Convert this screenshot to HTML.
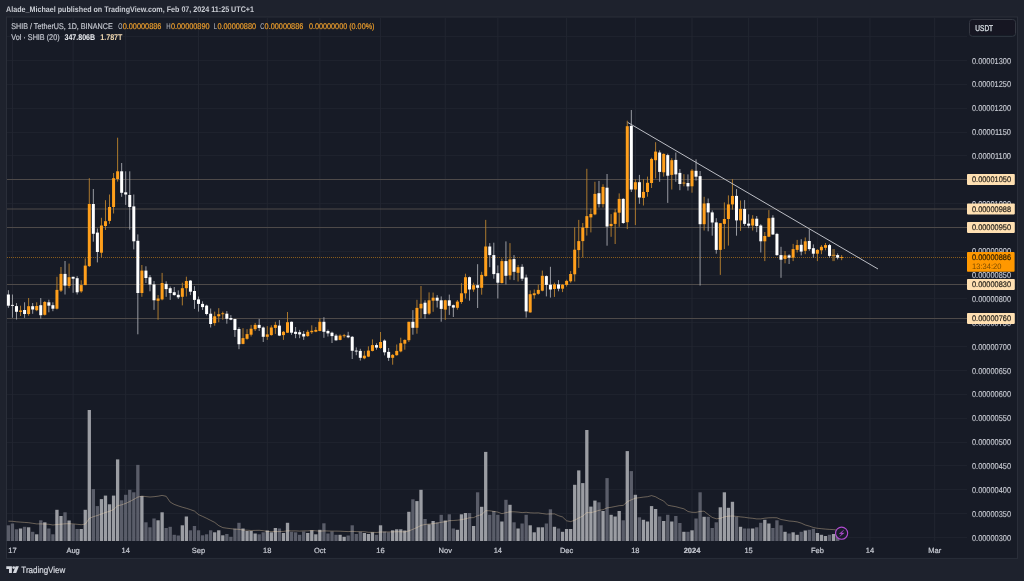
<!DOCTYPE html>
<html><head><meta charset="utf-8"><title>SHIB / TetherUS chart</title>
<style>html,body{margin:0;padding:0;background:#1e222d;width:1024px;height:581px;overflow:hidden}</style>
</head><body>
<svg width="1024" height="581" viewBox="0 0 1024 581" style="display:block;position:absolute;left:0;top:0" font-family="Liberation Sans, sans-serif" text-rendering="geometricPrecision">
<defs><filter id="cb" filterUnits="userSpaceOnUse" x="0" y="0" width="1024" height="581"><feGaussianBlur stdDeviation="0.3"/></filter><filter id="tb" filterUnits="userSpaceOnUse" x="0" y="0" width="1024" height="581"><feGaussianBlur stdDeviation="0.28"/></filter></defs>
<rect width="1024" height="581" fill="#1e222d"/>
<rect x="6.5" y="17" width="1011.0" height="541.4" fill="#171b26" stroke="#2a2e39" stroke-width="1"/>
<g stroke="#1e222d" stroke-width="1">
<line x1="7.0" y1="36.50" x2="967" y2="36.50"/>
<line x1="7.0" y1="60.50" x2="967" y2="60.50"/>
<line x1="7.0" y1="84.50" x2="967" y2="84.50"/>
<line x1="7.0" y1="108.50" x2="967" y2="108.50"/>
<line x1="7.0" y1="132.50" x2="967" y2="132.50"/>
<line x1="7.0" y1="155.50" x2="967" y2="155.50"/>
<line x1="7.0" y1="179.50" x2="967" y2="179.50"/>
<line x1="7.0" y1="203.50" x2="967" y2="203.50"/>
<line x1="7.0" y1="227.50" x2="967" y2="227.50"/>
<line x1="7.0" y1="251.50" x2="967" y2="251.50"/>
<line x1="7.0" y1="275.50" x2="967" y2="275.50"/>
<line x1="7.0" y1="298.50" x2="967" y2="298.50"/>
<line x1="7.0" y1="322.50" x2="967" y2="322.50"/>
<line x1="7.0" y1="346.50" x2="967" y2="346.50"/>
<line x1="7.0" y1="370.50" x2="967" y2="370.50"/>
<line x1="7.0" y1="394.50" x2="967" y2="394.50"/>
<line x1="7.0" y1="418.50" x2="967" y2="418.50"/>
<line x1="7.0" y1="442.50" x2="967" y2="442.50"/>
<line x1="7.0" y1="465.50" x2="967" y2="465.50"/>
<line x1="7.0" y1="489.50" x2="967" y2="489.50"/>
<line x1="7.0" y1="513.50" x2="967" y2="513.50"/>
<line x1="7.0" y1="537.50" x2="967" y2="537.50"/>
<line x1="12.45" y1="17.5" x2="12.45" y2="541" stroke="#222631"/>
<line x1="73.12" y1="17.5" x2="73.12" y2="541" stroke="#222631"/>
<line x1="125.70" y1="17.5" x2="125.70" y2="541" stroke="#222631"/>
<line x1="198.52" y1="17.5" x2="198.52" y2="541" stroke="#222631"/>
<line x1="267.28" y1="17.5" x2="267.28" y2="541" stroke="#222631"/>
<line x1="319.86" y1="17.5" x2="319.86" y2="541" stroke="#222631"/>
<line x1="380.54" y1="17.5" x2="380.54" y2="541" stroke="#222631"/>
<line x1="445.26" y1="17.5" x2="445.26" y2="541" stroke="#222631"/>
<line x1="497.84" y1="17.5" x2="497.84" y2="541" stroke="#222631"/>
<line x1="566.61" y1="17.5" x2="566.61" y2="541" stroke="#222631"/>
<line x1="635.38" y1="17.5" x2="635.38" y2="541" stroke="#222631"/>
<line x1="692.00" y1="17.5" x2="692.00" y2="541" stroke="#222631"/>
<line x1="748.63" y1="17.5" x2="748.63" y2="541" stroke="#222631"/>
<line x1="817.40" y1="17.5" x2="817.40" y2="541" stroke="#222631"/>
<line x1="869.99" y1="17.5" x2="869.99" y2="541" stroke="#222631"/>
<line x1="934.70" y1="17.5" x2="934.70" y2="541" stroke="#222631"/>
</g>
<g filter="url(#cb)">
<rect x="6.75" y="525.30" width="3.3" height="15.70" fill="#5a5d69"/>
<rect x="10.79" y="523.50" width="3.3" height="17.50" fill="#5a5d69"/>
<rect x="14.84" y="529.30" width="3.3" height="11.70" fill="#5a5d69"/>
<rect x="18.89" y="528.50" width="3.3" height="12.50" fill="#9b9da3"/>
<rect x="22.93" y="526.80" width="3.3" height="14.20" fill="#5a5d69"/>
<rect x="26.98" y="527.30" width="3.3" height="13.70" fill="#9b9da3"/>
<rect x="31.02" y="531.80" width="3.3" height="9.20" fill="#5a5d69"/>
<rect x="35.06" y="534.30" width="3.3" height="6.70" fill="#9b9da3"/>
<rect x="39.11" y="520.30" width="3.3" height="20.70" fill="#5a5d69"/>
<rect x="43.16" y="522.30" width="3.3" height="18.70" fill="#9b9da3"/>
<rect x="47.20" y="528.50" width="3.3" height="12.50" fill="#5a5d69"/>
<rect x="51.24" y="534.30" width="3.3" height="6.70" fill="#5a5d69"/>
<rect x="55.29" y="509.80" width="3.3" height="31.20" fill="#9b9da3"/>
<rect x="59.34" y="516.00" width="3.3" height="25.00" fill="#9b9da3"/>
<rect x="63.38" y="512.30" width="3.3" height="28.70" fill="#5a5d69"/>
<rect x="67.42" y="520.50" width="3.3" height="20.50" fill="#9b9da3"/>
<rect x="71.47" y="524.30" width="3.3" height="16.70" fill="#5a5d69"/>
<rect x="75.52" y="529.00" width="3.3" height="12.00" fill="#5a5d69"/>
<rect x="79.56" y="529.00" width="3.3" height="12.00" fill="#9b9da3"/>
<rect x="83.61" y="509.80" width="3.3" height="31.20" fill="#9b9da3"/>
<rect x="87.65" y="410.00" width="3.3" height="131.00" fill="#9b9da3"/>
<rect x="91.69" y="489.10" width="3.3" height="51.90" fill="#5a5d69"/>
<rect x="95.74" y="506.10" width="3.3" height="34.90" fill="#5a5d69"/>
<rect x="99.78" y="499.10" width="3.3" height="41.90" fill="#9b9da3"/>
<rect x="103.83" y="495.60" width="3.3" height="45.40" fill="#9b9da3"/>
<rect x="107.88" y="504.30" width="3.3" height="36.70" fill="#9b9da3"/>
<rect x="111.92" y="495.60" width="3.3" height="45.40" fill="#9b9da3"/>
<rect x="115.97" y="459.40" width="3.3" height="81.60" fill="#9b9da3"/>
<rect x="120.01" y="500.30" width="3.3" height="40.70" fill="#5a5d69"/>
<rect x="124.05" y="494.80" width="3.3" height="46.20" fill="#5a5d69"/>
<rect x="128.10" y="489.80" width="3.3" height="51.20" fill="#5a5d69"/>
<rect x="132.14" y="492.30" width="3.3" height="48.70" fill="#5a5d69"/>
<rect x="136.19" y="464.90" width="3.3" height="76.10" fill="#5a5d69"/>
<rect x="140.23" y="496.10" width="3.3" height="44.90" fill="#9b9da3"/>
<rect x="144.28" y="522.30" width="3.3" height="18.70" fill="#5a5d69"/>
<rect x="148.32" y="527.30" width="3.3" height="13.70" fill="#5a5d69"/>
<rect x="152.37" y="518.50" width="3.3" height="22.50" fill="#5a5d69"/>
<rect x="156.41" y="520.30" width="3.3" height="20.70" fill="#9b9da3"/>
<rect x="160.46" y="512.30" width="3.3" height="28.70" fill="#9b9da3"/>
<rect x="164.50" y="528.00" width="3.3" height="13.00" fill="#5a5d69"/>
<rect x="168.55" y="526.80" width="3.3" height="14.20" fill="#5a5d69"/>
<rect x="172.59" y="534.80" width="3.3" height="6.20" fill="#5a5d69"/>
<rect x="176.64" y="535.50" width="3.3" height="5.50" fill="#5a5d69"/>
<rect x="180.69" y="525.30" width="3.3" height="15.70" fill="#9b9da3"/>
<rect x="184.73" y="516.50" width="3.3" height="24.50" fill="#9b9da3"/>
<rect x="188.78" y="530.30" width="3.3" height="10.70" fill="#5a5d69"/>
<rect x="192.82" y="526.00" width="3.3" height="15.00" fill="#5a5d69"/>
<rect x="196.87" y="530.30" width="3.3" height="10.70" fill="#5a5d69"/>
<rect x="200.91" y="535.30" width="3.3" height="5.70" fill="#5a5d69"/>
<rect x="204.95" y="534.30" width="3.3" height="6.70" fill="#5a5d69"/>
<rect x="209.00" y="530.30" width="3.3" height="10.70" fill="#5a5d69"/>
<rect x="213.04" y="532.30" width="3.3" height="8.70" fill="#9b9da3"/>
<rect x="217.09" y="530.30" width="3.3" height="10.70" fill="#9b9da3"/>
<rect x="221.13" y="535.30" width="3.3" height="5.70" fill="#9b9da3"/>
<rect x="225.18" y="534.00" width="3.3" height="7.00" fill="#5a5d69"/>
<rect x="229.22" y="536.80" width="3.3" height="4.20" fill="#5a5d69"/>
<rect x="233.27" y="528.50" width="3.3" height="12.50" fill="#5a5d69"/>
<rect x="237.31" y="522.80" width="3.3" height="18.20" fill="#5a5d69"/>
<rect x="241.36" y="528.50" width="3.3" height="12.50" fill="#9b9da3"/>
<rect x="245.41" y="531.00" width="3.3" height="10.00" fill="#9b9da3"/>
<rect x="249.45" y="531.00" width="3.3" height="10.00" fill="#9b9da3"/>
<rect x="253.50" y="533.50" width="3.3" height="7.50" fill="#9b9da3"/>
<rect x="257.54" y="534.30" width="3.3" height="6.70" fill="#5a5d69"/>
<rect x="261.59" y="532.30" width="3.3" height="8.70" fill="#5a5d69"/>
<rect x="265.63" y="530.50" width="3.3" height="10.50" fill="#9b9da3"/>
<rect x="269.68" y="532.30" width="3.3" height="8.70" fill="#9b9da3"/>
<rect x="273.72" y="528.00" width="3.3" height="13.00" fill="#9b9da3"/>
<rect x="277.76" y="528.50" width="3.3" height="12.50" fill="#5a5d69"/>
<rect x="281.81" y="533.00" width="3.3" height="8.00" fill="#9b9da3"/>
<rect x="285.86" y="522.80" width="3.3" height="18.20" fill="#9b9da3"/>
<rect x="289.90" y="531.80" width="3.3" height="9.20" fill="#5a5d69"/>
<rect x="293.94" y="532.30" width="3.3" height="8.70" fill="#5a5d69"/>
<rect x="297.99" y="534.80" width="3.3" height="6.20" fill="#5a5d69"/>
<rect x="302.03" y="531.50" width="3.3" height="9.50" fill="#5a5d69"/>
<rect x="306.08" y="533.00" width="3.3" height="8.00" fill="#9b9da3"/>
<rect x="310.12" y="530.30" width="3.3" height="10.70" fill="#9b9da3"/>
<rect x="314.17" y="534.30" width="3.3" height="6.70" fill="#9b9da3"/>
<rect x="318.21" y="529.80" width="3.3" height="11.20" fill="#9b9da3"/>
<rect x="322.26" y="523.30" width="3.3" height="17.70" fill="#5a5d69"/>
<rect x="326.31" y="533.50" width="3.3" height="7.50" fill="#5a5d69"/>
<rect x="330.35" y="531.50" width="3.3" height="9.50" fill="#5a5d69"/>
<rect x="334.39" y="534.80" width="3.3" height="6.20" fill="#5a5d69"/>
<rect x="338.44" y="534.80" width="3.3" height="6.20" fill="#9b9da3"/>
<rect x="342.49" y="536.80" width="3.3" height="4.20" fill="#9b9da3"/>
<rect x="346.53" y="535.50" width="3.3" height="5.50" fill="#5a5d69"/>
<rect x="350.57" y="525.30" width="3.3" height="15.70" fill="#5a5d69"/>
<rect x="354.62" y="534.00" width="3.3" height="7.00" fill="#5a5d69"/>
<rect x="358.67" y="531.80" width="3.3" height="9.20" fill="#5a5d69"/>
<rect x="362.71" y="533.00" width="3.3" height="8.00" fill="#9b9da3"/>
<rect x="366.75" y="534.00" width="3.3" height="7.00" fill="#9b9da3"/>
<rect x="370.80" y="532.30" width="3.3" height="8.70" fill="#9b9da3"/>
<rect x="374.84" y="534.80" width="3.3" height="6.20" fill="#5a5d69"/>
<rect x="378.89" y="525.30" width="3.3" height="15.70" fill="#9b9da3"/>
<rect x="382.94" y="531.50" width="3.3" height="9.50" fill="#5a5d69"/>
<rect x="386.98" y="532.30" width="3.3" height="8.70" fill="#5a5d69"/>
<rect x="391.02" y="530.30" width="3.3" height="10.70" fill="#9b9da3"/>
<rect x="395.07" y="529.30" width="3.3" height="11.70" fill="#9b9da3"/>
<rect x="399.12" y="529.30" width="3.3" height="11.70" fill="#9b9da3"/>
<rect x="403.16" y="530.50" width="3.3" height="10.50" fill="#9b9da3"/>
<rect x="407.20" y="511.80" width="3.3" height="29.20" fill="#9b9da3"/>
<rect x="411.25" y="499.30" width="3.3" height="41.70" fill="#5a5d69"/>
<rect x="415.30" y="501.10" width="3.3" height="39.90" fill="#9b9da3"/>
<rect x="419.34" y="489.80" width="3.3" height="51.20" fill="#9b9da3"/>
<rect x="423.38" y="519.00" width="3.3" height="22.00" fill="#5a5d69"/>
<rect x="427.43" y="524.30" width="3.3" height="16.70" fill="#9b9da3"/>
<rect x="431.47" y="521.00" width="3.3" height="20.00" fill="#9b9da3"/>
<rect x="435.52" y="522.30" width="3.3" height="18.70" fill="#5a5d69"/>
<rect x="439.56" y="514.80" width="3.3" height="26.20" fill="#5a5d69"/>
<rect x="443.61" y="520.50" width="3.3" height="20.50" fill="#9b9da3"/>
<rect x="447.65" y="514.30" width="3.3" height="26.70" fill="#5a5d69"/>
<rect x="451.70" y="528.50" width="3.3" height="12.50" fill="#5a5d69"/>
<rect x="455.75" y="529.80" width="3.3" height="11.20" fill="#9b9da3"/>
<rect x="459.79" y="514.30" width="3.3" height="26.70" fill="#9b9da3"/>
<rect x="463.83" y="513.00" width="3.3" height="28.00" fill="#9b9da3"/>
<rect x="467.88" y="513.00" width="3.3" height="28.00" fill="#5a5d69"/>
<rect x="471.93" y="526.00" width="3.3" height="15.00" fill="#9b9da3"/>
<rect x="475.97" y="492.30" width="3.3" height="48.70" fill="#5a5d69"/>
<rect x="480.01" y="506.80" width="3.3" height="34.20" fill="#9b9da3"/>
<rect x="484.06" y="451.90" width="3.3" height="89.10" fill="#9b9da3"/>
<rect x="488.11" y="514.80" width="3.3" height="26.20" fill="#5a5d69"/>
<rect x="492.15" y="511.00" width="3.3" height="30.00" fill="#5a5d69"/>
<rect x="496.19" y="514.80" width="3.3" height="26.20" fill="#5a5d69"/>
<rect x="500.24" y="521.50" width="3.3" height="19.50" fill="#9b9da3"/>
<rect x="504.28" y="499.80" width="3.3" height="41.20" fill="#5a5d69"/>
<rect x="508.33" y="504.80" width="3.3" height="36.20" fill="#9b9da3"/>
<rect x="512.38" y="522.30" width="3.3" height="18.70" fill="#5a5d69"/>
<rect x="516.42" y="528.50" width="3.3" height="12.50" fill="#9b9da3"/>
<rect x="520.47" y="523.50" width="3.3" height="17.50" fill="#5a5d69"/>
<rect x="524.51" y="514.80" width="3.3" height="26.20" fill="#5a5d69"/>
<rect x="528.55" y="525.30" width="3.3" height="15.70" fill="#9b9da3"/>
<rect x="532.60" y="532.30" width="3.3" height="8.70" fill="#9b9da3"/>
<rect x="536.64" y="527.30" width="3.3" height="13.70" fill="#9b9da3"/>
<rect x="540.69" y="527.30" width="3.3" height="13.70" fill="#9b9da3"/>
<rect x="544.74" y="523.50" width="3.3" height="17.50" fill="#5a5d69"/>
<rect x="548.78" y="509.30" width="3.3" height="31.70" fill="#5a5d69"/>
<rect x="552.83" y="526.80" width="3.3" height="14.20" fill="#9b9da3"/>
<rect x="556.87" y="528.50" width="3.3" height="12.50" fill="#5a5d69"/>
<rect x="560.91" y="531.80" width="3.3" height="9.20" fill="#9b9da3"/>
<rect x="564.96" y="529.00" width="3.3" height="12.00" fill="#9b9da3"/>
<rect x="569.00" y="529.00" width="3.3" height="12.00" fill="#9b9da3"/>
<rect x="573.05" y="484.80" width="3.3" height="56.20" fill="#9b9da3"/>
<rect x="577.10" y="470.40" width="3.3" height="70.60" fill="#9b9da3"/>
<rect x="581.14" y="483.10" width="3.3" height="57.90" fill="#9b9da3"/>
<rect x="585.18" y="430.00" width="3.3" height="111.00" fill="#9b9da3"/>
<rect x="589.23" y="506.60" width="3.3" height="34.40" fill="#9b9da3"/>
<rect x="593.27" y="500.60" width="3.3" height="40.40" fill="#9b9da3"/>
<rect x="597.32" y="502.30" width="3.3" height="38.70" fill="#5a5d69"/>
<rect x="601.37" y="511.00" width="3.3" height="30.00" fill="#9b9da3"/>
<rect x="605.41" y="478.10" width="3.3" height="62.90" fill="#5a5d69"/>
<rect x="609.46" y="514.80" width="3.3" height="26.20" fill="#9b9da3"/>
<rect x="613.50" y="516.50" width="3.3" height="24.50" fill="#9b9da3"/>
<rect x="617.54" y="511.00" width="3.3" height="30.00" fill="#9b9da3"/>
<rect x="621.59" y="520.30" width="3.3" height="20.70" fill="#5a5d69"/>
<rect x="625.63" y="451.10" width="3.3" height="89.90" fill="#9b9da3"/>
<rect x="629.68" y="471.10" width="3.3" height="69.90" fill="#5a5d69"/>
<rect x="633.73" y="494.80" width="3.3" height="46.20" fill="#9b9da3"/>
<rect x="637.77" y="517.30" width="3.3" height="23.70" fill="#5a5d69"/>
<rect x="641.81" y="519.80" width="3.3" height="21.20" fill="#9b9da3"/>
<rect x="645.86" y="521.50" width="3.3" height="19.50" fill="#9b9da3"/>
<rect x="649.90" y="506.10" width="3.3" height="34.90" fill="#9b9da3"/>
<rect x="653.95" y="509.00" width="3.3" height="32.00" fill="#9b9da3"/>
<rect x="658.00" y="516.50" width="3.3" height="24.50" fill="#5a5d69"/>
<rect x="662.04" y="521.00" width="3.3" height="20.00" fill="#9b9da3"/>
<rect x="666.09" y="514.80" width="3.3" height="26.20" fill="#5a5d69"/>
<rect x="670.13" y="521.50" width="3.3" height="19.50" fill="#9b9da3"/>
<rect x="674.17" y="516.00" width="3.3" height="25.00" fill="#5a5d69"/>
<rect x="678.22" y="523.00" width="3.3" height="18.00" fill="#5a5d69"/>
<rect x="682.26" y="531.80" width="3.3" height="9.20" fill="#9b9da3"/>
<rect x="686.31" y="531.80" width="3.3" height="9.20" fill="#5a5d69"/>
<rect x="690.36" y="530.30" width="3.3" height="10.70" fill="#9b9da3"/>
<rect x="694.40" y="518.50" width="3.3" height="22.50" fill="#5a5d69"/>
<rect x="698.44" y="492.30" width="3.3" height="48.70" fill="#5a5d69"/>
<rect x="702.49" y="516.80" width="3.3" height="24.20" fill="#9b9da3"/>
<rect x="706.53" y="516.80" width="3.3" height="24.20" fill="#5a5d69"/>
<rect x="710.58" y="528.00" width="3.3" height="13.00" fill="#5a5d69"/>
<rect x="714.62" y="522.30" width="3.3" height="18.70" fill="#5a5d69"/>
<rect x="718.67" y="507.30" width="3.3" height="33.70" fill="#9b9da3"/>
<rect x="722.72" y="492.30" width="3.3" height="48.70" fill="#9b9da3"/>
<rect x="726.76" y="507.80" width="3.3" height="33.20" fill="#9b9da3"/>
<rect x="730.80" y="501.80" width="3.3" height="39.20" fill="#9b9da3"/>
<rect x="734.85" y="516.80" width="3.3" height="24.20" fill="#5a5d69"/>
<rect x="738.89" y="526.80" width="3.3" height="14.20" fill="#9b9da3"/>
<rect x="742.94" y="528.50" width="3.3" height="12.50" fill="#5a5d69"/>
<rect x="746.99" y="528.50" width="3.3" height="12.50" fill="#5a5d69"/>
<rect x="751.03" y="528.50" width="3.3" height="12.50" fill="#9b9da3"/>
<rect x="755.07" y="527.30" width="3.3" height="13.70" fill="#5a5d69"/>
<rect x="759.12" y="522.80" width="3.3" height="18.20" fill="#5a5d69"/>
<rect x="763.16" y="519.80" width="3.3" height="21.20" fill="#9b9da3"/>
<rect x="767.21" y="523.50" width="3.3" height="17.50" fill="#9b9da3"/>
<rect x="771.25" y="528.00" width="3.3" height="13.00" fill="#5a5d69"/>
<rect x="775.30" y="520.30" width="3.3" height="20.70" fill="#5a5d69"/>
<rect x="779.35" y="525.30" width="3.3" height="15.70" fill="#5a5d69"/>
<rect x="783.39" y="531.80" width="3.3" height="9.20" fill="#9b9da3"/>
<rect x="787.43" y="533.50" width="3.3" height="7.50" fill="#5a5d69"/>
<rect x="791.48" y="532.30" width="3.3" height="8.70" fill="#9b9da3"/>
<rect x="795.52" y="534.80" width="3.3" height="6.20" fill="#9b9da3"/>
<rect x="799.57" y="531.80" width="3.3" height="9.20" fill="#5a5d69"/>
<rect x="803.62" y="530.50" width="3.3" height="10.50" fill="#9b9da3"/>
<rect x="807.66" y="529.80" width="3.3" height="11.20" fill="#5a5d69"/>
<rect x="811.71" y="528.80" width="3.3" height="12.20" fill="#5a5d69"/>
<rect x="815.75" y="533.00" width="3.3" height="8.00" fill="#9b9da3"/>
<rect x="819.79" y="534.80" width="3.3" height="6.20" fill="#9b9da3"/>
<rect x="823.84" y="536.00" width="3.3" height="5.00" fill="#9b9da3"/>
<rect x="827.88" y="534.80" width="3.3" height="6.20" fill="#5a5d69"/>
<rect x="831.93" y="534.00" width="3.3" height="7.00" fill="#9b9da3"/>
<rect x="835.98" y="536.00" width="3.3" height="5.00" fill="#5a5d69"/>
</g>
<polyline points="8.4,521.2 12.4,521.3 16.5,521.8 20.5,522.1 24.6,522.4 28.6,522.7 32.7,523.3 36.7,523.9 40.8,523.9 44.8,524.0 48.9,524.3 52.9,525.0 56.9,524.5 61.0,524.2 65.0,523.8 69.1,523.7 73.1,523.9 77.2,524.3 81.2,524.7 85.3,524.1 89.3,518.4 93.3,516.7 97.4,515.5 101.4,514.0 105.5,512.5 109.5,511.3 113.6,509.5 117.6,505.8 121.7,504.8 125.7,503.4 129.8,501.5 133.8,499.4 137.8,497.1 141.9,496.1 145.9,496.6 150.0,497.0 154.0,496.7 158.1,496.2 162.1,495.4 166.2,496.3 170.2,502.1 174.2,504.4 178.3,505.9 182.3,507.2 186.4,508.3 190.4,509.6 194.5,511.1 198.5,514.6 202.6,516.4 206.6,518.3 210.7,520.4 214.7,522.4 218.7,525.6 222.8,527.6 226.8,528.2 230.9,528.7 234.9,529.2 239.0,529.3 243.0,530.1 247.1,530.2 251.1,530.5 255.1,530.4 259.2,530.3 263.2,530.7 267.3,531.4 271.3,531.5 275.4,531.6 279.4,531.5 283.5,531.4 287.5,530.8 291.5,530.9 295.6,530.9 299.6,531.1 303.7,530.9 307.7,530.9 311.8,530.5 315.8,530.8 319.9,531.2 323.9,530.9 328.0,531.0 332.0,531.1 336.0,531.1 340.1,531.2 344.1,531.4 348.2,531.6 352.2,531.3 356.3,531.6 360.3,531.7 364.4,531.7 368.4,532.3 372.4,532.3 376.5,532.5 380.5,532.0 384.6,532.0 388.6,531.9 392.7,531.9 396.7,531.7 400.8,531.7 404.8,532.0 408.9,530.9 412.9,529.3 416.9,527.6 421.0,525.4 425.0,524.5 429.1,524.0 433.1,523.7 437.2,523.1 441.2,522.3 445.3,521.7 449.3,520.7 453.3,520.5 457.4,520.2 461.4,519.7 465.5,518.8 469.5,517.8 473.6,517.6 477.6,515.7 481.7,514.6 485.7,510.7 489.8,510.8 493.8,511.4 497.8,512.1 501.9,513.7 505.9,512.7 510.0,511.8 514.0,511.8 518.1,512.1 522.1,512.6 526.2,512.3 530.2,512.8 534.2,513.0 538.3,512.9 542.3,513.5 546.4,514.1 550.4,513.9 554.5,513.9 558.5,515.7 562.6,517.0 566.6,520.8 570.7,521.6 574.7,520.2 578.7,518.0 582.8,516.1 586.8,512.6 590.9,512.7 594.9,511.6 599.0,510.3 603.0,509.7 607.1,507.9 611.1,507.3 615.1,506.5 619.2,505.7 623.2,505.4 627.3,501.8 631.3,499.8 635.4,498.2 639.4,497.7 643.5,497.1 647.5,496.7 651.6,495.6 655.6,496.8 659.6,499.1 663.7,501.0 667.7,505.2 671.8,506.0 675.8,506.7 679.9,507.8 683.9,508.8 688.0,511.5 692.0,512.3 696.0,512.4 700.1,511.4 704.1,511.2 708.2,514.5 712.2,517.4 716.3,518.8 720.3,518.3 724.4,516.9 728.4,516.2 732.5,516.0 736.5,516.4 740.5,516.9 744.6,517.3 748.6,517.9 752.7,518.3 756.7,518.9 760.8,518.9 764.8,518.2 768.9,517.8 772.9,517.7 776.9,517.8 781.0,519.5 785.0,520.2 789.1,521.0 793.1,521.3 797.2,521.9 801.2,523.1 805.3,525.0 809.3,526.1 813.4,527.5 817.4,528.3 821.4,528.7 825.5,529.1 829.5,529.4 833.6,529.6 837.6,530.1" fill="none" stroke="#ffe0b2" stroke-opacity="0.45" stroke-width="0.8"/>
<line x1="7.0" y1="179.50" x2="967" y2="179.50" stroke="#4e4a49" stroke-width="1"/>
<line x1="7.0" y1="209.00" x2="967" y2="209.00" stroke="#4e4a49" stroke-width="1"/>
<line x1="7.0" y1="227.50" x2="967" y2="227.50" stroke="#4e4a49" stroke-width="1"/>
<line x1="7.0" y1="284.50" x2="967" y2="284.50" stroke="#4e4a49" stroke-width="1"/>
<line x1="7.0" y1="318.50" x2="967" y2="318.50" stroke="#4e4a49" stroke-width="1"/>
<line x1="7.0" y1="257.50" x2="967" y2="257.50" stroke="#c98016" stroke-width="1" stroke-dasharray="0.9 1.1" opacity="0.72"/>
<g filter="url(#cb)">
<line x1="8.40" y1="290.2" x2="8.40" y2="307.8" stroke="#a6a8af" stroke-width="0.9"/>
<rect x="6.90" y="294.5" width="3" height="11.2" fill="#ffffff"/>
<line x1="12.45" y1="294.5" x2="12.45" y2="317.8" stroke="#a6a8af" stroke-width="0.9"/>
<rect x="10.95" y="304.9" width="3" height="0.9" fill="#ffffff"/>
<line x1="16.49" y1="303.1" x2="16.49" y2="319.5" stroke="#a6a8af" stroke-width="0.9"/>
<rect x="14.99" y="306.1" width="3" height="5.7" fill="#ffffff"/>
<line x1="20.54" y1="305.7" x2="20.54" y2="316.0" stroke="#bb822e" stroke-width="0.9"/>
<rect x="19.04" y="310.5" width="3" height="1.4" fill="#ff9f1a"/>
<line x1="24.58" y1="302.3" x2="24.58" y2="317.8" stroke="#a6a8af" stroke-width="0.9"/>
<rect x="23.08" y="310.0" width="3" height="4.0" fill="#ffffff"/>
<line x1="28.62" y1="298.0" x2="28.62" y2="315.7" stroke="#bb822e" stroke-width="0.9"/>
<rect x="27.12" y="306.2" width="3" height="7.8" fill="#ff9f1a"/>
<line x1="32.67" y1="303.0" x2="32.67" y2="313.8" stroke="#a6a8af" stroke-width="0.9"/>
<rect x="31.17" y="306.2" width="3" height="3.3" fill="#ffffff"/>
<line x1="36.71" y1="302.3" x2="36.71" y2="311.2" stroke="#bb822e" stroke-width="0.9"/>
<rect x="35.21" y="306.0" width="3" height="4.2" fill="#ff9f1a"/>
<line x1="40.76" y1="298.0" x2="40.76" y2="318.6" stroke="#a6a8af" stroke-width="0.9"/>
<rect x="39.26" y="305.2" width="3" height="10.0" fill="#ffffff"/>
<line x1="44.80" y1="301.0" x2="44.80" y2="315.5" stroke="#bb822e" stroke-width="0.9"/>
<rect x="43.30" y="302.0" width="3" height="12.8" fill="#ff9f1a"/>
<line x1="48.85" y1="299.7" x2="48.85" y2="312.3" stroke="#a6a8af" stroke-width="0.9"/>
<rect x="47.35" y="302.3" width="3" height="3.4" fill="#ffffff"/>
<line x1="52.89" y1="302.3" x2="52.89" y2="311.2" stroke="#a6a8af" stroke-width="0.9"/>
<rect x="51.39" y="305.2" width="3" height="3.5" fill="#ffffff"/>
<line x1="56.94" y1="276.8" x2="56.94" y2="309.5" stroke="#bb822e" stroke-width="0.9"/>
<rect x="55.44" y="289.9" width="3" height="18.8" fill="#ff9f1a"/>
<line x1="60.98" y1="267.0" x2="60.98" y2="292.0" stroke="#bb822e" stroke-width="0.9"/>
<rect x="59.48" y="273.9" width="3" height="16.7" fill="#ff9f1a"/>
<line x1="65.03" y1="261.0" x2="65.03" y2="294.5" stroke="#a6a8af" stroke-width="0.9"/>
<rect x="63.53" y="273.9" width="3" height="11.7" fill="#ffffff"/>
<line x1="69.08" y1="263.6" x2="69.08" y2="288.2" stroke="#bb822e" stroke-width="0.9"/>
<rect x="67.58" y="277.2" width="3" height="8.7" fill="#ff9f1a"/>
<line x1="73.12" y1="276.8" x2="73.12" y2="292.8" stroke="#a6a8af" stroke-width="0.9"/>
<rect x="71.62" y="276.8" width="3" height="1.9" fill="#ffffff"/>
<line x1="77.17" y1="276.1" x2="77.17" y2="294.5" stroke="#a6a8af" stroke-width="0.9"/>
<rect x="75.67" y="278.2" width="3" height="14.1" fill="#ffffff"/>
<line x1="81.21" y1="280.3" x2="81.21" y2="292.8" stroke="#bb822e" stroke-width="0.9"/>
<rect x="79.71" y="285.1" width="3" height="6.3" fill="#ff9f1a"/>
<line x1="85.26" y1="258.4" x2="85.26" y2="285.1" stroke="#bb822e" stroke-width="0.9"/>
<rect x="83.76" y="265.6" width="3" height="19.5" fill="#ff9f1a"/>
<line x1="89.30" y1="178.2" x2="89.30" y2="267.0" stroke="#bb822e" stroke-width="0.9"/>
<rect x="87.80" y="204.0" width="3" height="62.1" fill="#ff9f1a"/>
<line x1="93.34" y1="189.0" x2="93.34" y2="241.7" stroke="#a6a8af" stroke-width="0.9"/>
<rect x="91.84" y="204.0" width="3" height="29.8" fill="#ffffff"/>
<line x1="97.39" y1="228.5" x2="97.39" y2="262.4" stroke="#a6a8af" stroke-width="0.9"/>
<rect x="95.89" y="232.6" width="3" height="19.4" fill="#ffffff"/>
<line x1="101.44" y1="217.8" x2="101.44" y2="257.5" stroke="#bb822e" stroke-width="0.9"/>
<rect x="99.94" y="225.5" width="3" height="27.2" fill="#ff9f1a"/>
<line x1="105.48" y1="200.2" x2="105.48" y2="230.0" stroke="#bb822e" stroke-width="0.9"/>
<rect x="103.98" y="221.2" width="3" height="4.8" fill="#ff9f1a"/>
<line x1="109.53" y1="194.5" x2="109.53" y2="223.8" stroke="#bb822e" stroke-width="0.9"/>
<rect x="108.03" y="207.0" width="3" height="13.9" fill="#ff9f1a"/>
<line x1="113.57" y1="173.0" x2="113.57" y2="213.5" stroke="#bb822e" stroke-width="0.9"/>
<rect x="112.07" y="178.2" width="3" height="28.8" fill="#ff9f1a"/>
<line x1="117.62" y1="137.7" x2="117.62" y2="181.6" stroke="#bb822e" stroke-width="0.9"/>
<rect x="116.12" y="171.3" width="3" height="7.7" fill="#ff9f1a"/>
<line x1="121.66" y1="163.0" x2="121.66" y2="196.8" stroke="#a6a8af" stroke-width="0.9"/>
<rect x="120.16" y="171.3" width="3" height="21.5" fill="#ffffff"/>
<line x1="125.70" y1="171.3" x2="125.70" y2="204.9" stroke="#a6a8af" stroke-width="0.9"/>
<rect x="124.20" y="192.3" width="3" height="2.2" fill="#ffffff"/>
<line x1="129.75" y1="171.3" x2="129.75" y2="229.6" stroke="#a6a8af" stroke-width="0.9"/>
<rect x="128.25" y="195.0" width="3" height="12.0" fill="#ffffff"/>
<line x1="133.79" y1="194.5" x2="133.79" y2="249.4" stroke="#a6a8af" stroke-width="0.9"/>
<rect x="132.29" y="206.4" width="3" height="34.9" fill="#ffffff"/>
<line x1="137.84" y1="234.4" x2="137.84" y2="334.3" stroke="#a6a8af" stroke-width="0.9"/>
<rect x="136.34" y="240.8" width="3" height="52.2" fill="#ffffff"/>
<line x1="141.88" y1="265.0" x2="141.88" y2="296.8" stroke="#bb822e" stroke-width="0.9"/>
<rect x="140.38" y="270.6" width="3" height="22.4" fill="#ff9f1a"/>
<line x1="145.93" y1="266.3" x2="145.93" y2="283.0" stroke="#a6a8af" stroke-width="0.9"/>
<rect x="144.43" y="270.6" width="3" height="7.4" fill="#ffffff"/>
<line x1="149.97" y1="275.0" x2="149.97" y2="291.3" stroke="#a6a8af" stroke-width="0.9"/>
<rect x="148.47" y="277.3" width="3" height="7.2" fill="#ffffff"/>
<line x1="154.02" y1="281.0" x2="154.02" y2="309.9" stroke="#a6a8af" stroke-width="0.9"/>
<rect x="152.52" y="284.4" width="3" height="15.9" fill="#ffffff"/>
<line x1="158.06" y1="295.1" x2="158.06" y2="319.7" stroke="#bb822e" stroke-width="0.9"/>
<rect x="156.56" y="298.5" width="3" height="2.3" fill="#ff9f1a"/>
<line x1="162.11" y1="272.9" x2="162.11" y2="300.3" stroke="#bb822e" stroke-width="0.9"/>
<rect x="160.61" y="283.0" width="3" height="16.4" fill="#ff9f1a"/>
<line x1="166.16" y1="281.3" x2="166.16" y2="296.8" stroke="#a6a8af" stroke-width="0.9"/>
<rect x="164.66" y="283.9" width="3" height="5.2" fill="#ffffff"/>
<line x1="170.20" y1="286.5" x2="170.20" y2="299.9" stroke="#a6a8af" stroke-width="0.9"/>
<rect x="168.70" y="288.2" width="3" height="4.8" fill="#ffffff"/>
<line x1="174.25" y1="287.0" x2="174.25" y2="295.6" stroke="#a6a8af" stroke-width="0.9"/>
<rect x="172.75" y="292.2" width="3" height="2.9" fill="#ffffff"/>
<line x1="178.29" y1="290.4" x2="178.29" y2="299.0" stroke="#a6a8af" stroke-width="0.9"/>
<rect x="176.79" y="294.8" width="3" height="2.5" fill="#ffffff"/>
<line x1="182.34" y1="282.7" x2="182.34" y2="305.4" stroke="#bb822e" stroke-width="0.9"/>
<rect x="180.84" y="288.2" width="3" height="8.6" fill="#ff9f1a"/>
<line x1="186.38" y1="276.7" x2="186.38" y2="296.5" stroke="#bb822e" stroke-width="0.9"/>
<rect x="184.88" y="281.0" width="3" height="7.2" fill="#ff9f1a"/>
<line x1="190.43" y1="280.1" x2="190.43" y2="295.1" stroke="#a6a8af" stroke-width="0.9"/>
<rect x="188.93" y="280.6" width="3" height="11.1" fill="#ffffff"/>
<line x1="194.47" y1="286.1" x2="194.47" y2="308.9" stroke="#a6a8af" stroke-width="0.9"/>
<rect x="192.97" y="291.0" width="3" height="8.9" fill="#ffffff"/>
<line x1="198.52" y1="296.5" x2="198.52" y2="311.6" stroke="#a6a8af" stroke-width="0.9"/>
<rect x="197.02" y="299.4" width="3" height="4.5" fill="#ffffff"/>
<line x1="202.56" y1="301.3" x2="202.56" y2="309.9" stroke="#a6a8af" stroke-width="0.9"/>
<rect x="201.06" y="303.9" width="3" height="3.2" fill="#ffffff"/>
<line x1="206.60" y1="304.7" x2="206.60" y2="315.4" stroke="#a6a8af" stroke-width="0.9"/>
<rect x="205.10" y="305.6" width="3" height="8.4" fill="#ffffff"/>
<line x1="210.65" y1="308.5" x2="210.65" y2="327.5" stroke="#a6a8af" stroke-width="0.9"/>
<rect x="209.15" y="313.7" width="3" height="10.3" fill="#ffffff"/>
<line x1="214.69" y1="311.6" x2="214.69" y2="325.7" stroke="#bb822e" stroke-width="0.9"/>
<rect x="213.19" y="316.3" width="3" height="6.8" fill="#ff9f1a"/>
<line x1="218.74" y1="308.2" x2="218.74" y2="322.3" stroke="#bb822e" stroke-width="0.9"/>
<rect x="217.24" y="314.2" width="3" height="2.1" fill="#ff9f1a"/>
<line x1="222.78" y1="311.6" x2="222.78" y2="319.7" stroke="#bb822e" stroke-width="0.9"/>
<rect x="221.28" y="313.3" width="3" height="0.9" fill="#ff9f1a"/>
<line x1="226.83" y1="311.1" x2="226.83" y2="323.7" stroke="#a6a8af" stroke-width="0.9"/>
<rect x="225.33" y="313.7" width="3" height="5.1" fill="#ffffff"/>
<line x1="230.88" y1="315.1" x2="230.88" y2="320.2" stroke="#a6a8af" stroke-width="0.9"/>
<rect x="229.38" y="318.0" width="3" height="1.7" fill="#ffffff"/>
<line x1="234.92" y1="318.8" x2="234.92" y2="336.9" stroke="#a6a8af" stroke-width="0.9"/>
<rect x="233.42" y="319.0" width="3" height="11.0" fill="#ffffff"/>
<line x1="238.97" y1="327.2" x2="238.97" y2="349.2" stroke="#a6a8af" stroke-width="0.9"/>
<rect x="237.47" y="329.0" width="3" height="15.2" fill="#ffffff"/>
<line x1="243.01" y1="328.2" x2="243.01" y2="344.3" stroke="#bb822e" stroke-width="0.9"/>
<rect x="241.51" y="338.1" width="3" height="5.8" fill="#ff9f1a"/>
<line x1="247.06" y1="329.2" x2="247.06" y2="339.7" stroke="#bb822e" stroke-width="0.9"/>
<rect x="245.56" y="334.1" width="3" height="4.7" fill="#ff9f1a"/>
<line x1="251.10" y1="324.9" x2="251.10" y2="336.5" stroke="#bb822e" stroke-width="0.9"/>
<rect x="249.60" y="328.7" width="3" height="6.0" fill="#ff9f1a"/>
<line x1="255.15" y1="323.0" x2="255.15" y2="331.0" stroke="#bb822e" stroke-width="0.9"/>
<rect x="253.65" y="324.9" width="3" height="4.3" fill="#ff9f1a"/>
<line x1="259.19" y1="318.9" x2="259.19" y2="331.0" stroke="#a6a8af" stroke-width="0.9"/>
<rect x="257.69" y="324.9" width="3" height="3.0" fill="#ffffff"/>
<line x1="263.24" y1="326.5" x2="263.24" y2="342.0" stroke="#a6a8af" stroke-width="0.9"/>
<rect x="261.74" y="327.5" width="3" height="9.3" fill="#ffffff"/>
<line x1="267.28" y1="326.1" x2="267.28" y2="339.9" stroke="#bb822e" stroke-width="0.9"/>
<rect x="265.78" y="334.4" width="3" height="2.4" fill="#ff9f1a"/>
<line x1="271.32" y1="325.3" x2="271.32" y2="335.6" stroke="#bb822e" stroke-width="0.9"/>
<rect x="269.82" y="327.5" width="3" height="7.6" fill="#ff9f1a"/>
<line x1="275.37" y1="321.8" x2="275.37" y2="333.9" stroke="#bb822e" stroke-width="0.9"/>
<rect x="273.87" y="324.9" width="3" height="3.0" fill="#ff9f1a"/>
<line x1="279.41" y1="320.1" x2="279.41" y2="336.1" stroke="#a6a8af" stroke-width="0.9"/>
<rect x="277.91" y="325.6" width="3" height="10.0" fill="#ffffff"/>
<line x1="283.46" y1="331.0" x2="283.46" y2="339.9" stroke="#bb822e" stroke-width="0.9"/>
<rect x="281.96" y="331.8" width="3" height="3.3" fill="#ff9f1a"/>
<line x1="287.50" y1="312.0" x2="287.50" y2="333.0" stroke="#bb822e" stroke-width="0.9"/>
<rect x="286.00" y="322.2" width="3" height="10.5" fill="#ff9f1a"/>
<line x1="291.55" y1="321.5" x2="291.55" y2="334.8" stroke="#a6a8af" stroke-width="0.9"/>
<rect x="290.05" y="321.8" width="3" height="10.9" fill="#ffffff"/>
<line x1="295.59" y1="327.0" x2="295.59" y2="338.2" stroke="#a6a8af" stroke-width="0.9"/>
<rect x="294.09" y="331.8" width="3" height="2.1" fill="#ffffff"/>
<line x1="299.64" y1="329.9" x2="299.64" y2="338.2" stroke="#a6a8af" stroke-width="0.9"/>
<rect x="298.14" y="332.2" width="3" height="2.2" fill="#ffffff"/>
<line x1="303.68" y1="331.0" x2="303.68" y2="339.9" stroke="#a6a8af" stroke-width="0.9"/>
<rect x="302.18" y="333.9" width="3" height="2.6" fill="#ffffff"/>
<line x1="307.73" y1="329.9" x2="307.73" y2="336.8" stroke="#bb822e" stroke-width="0.9"/>
<rect x="306.23" y="331.8" width="3" height="4.3" fill="#ff9f1a"/>
<line x1="311.77" y1="325.3" x2="311.77" y2="333.9" stroke="#bb822e" stroke-width="0.9"/>
<rect x="310.27" y="330.8" width="3" height="1.4" fill="#ff9f1a"/>
<line x1="315.82" y1="327.0" x2="315.82" y2="332.2" stroke="#bb822e" stroke-width="0.9"/>
<rect x="314.32" y="329.9" width="3" height="1.8" fill="#ff9f1a"/>
<line x1="319.86" y1="318.4" x2="319.86" y2="331.3" stroke="#bb822e" stroke-width="0.9"/>
<rect x="318.36" y="321.8" width="3" height="9.2" fill="#ff9f1a"/>
<line x1="323.91" y1="317.2" x2="323.91" y2="337.8" stroke="#a6a8af" stroke-width="0.9"/>
<rect x="322.41" y="321.8" width="3" height="10.0" fill="#ffffff"/>
<line x1="327.95" y1="329.6" x2="327.95" y2="336.5" stroke="#a6a8af" stroke-width="0.9"/>
<rect x="326.45" y="331.0" width="3" height="2.4" fill="#ffffff"/>
<line x1="332.00" y1="331.7" x2="332.00" y2="343.0" stroke="#a6a8af" stroke-width="0.9"/>
<rect x="330.50" y="332.7" width="3" height="3.4" fill="#ffffff"/>
<line x1="336.04" y1="333.9" x2="336.04" y2="340.8" stroke="#a6a8af" stroke-width="0.9"/>
<rect x="334.54" y="335.6" width="3" height="4.7" fill="#ffffff"/>
<line x1="340.09" y1="334.4" x2="340.09" y2="340.3" stroke="#bb822e" stroke-width="0.9"/>
<rect x="338.59" y="335.6" width="3" height="4.3" fill="#ff9f1a"/>
<line x1="344.13" y1="333.9" x2="344.13" y2="337.8" stroke="#bb822e" stroke-width="0.9"/>
<rect x="342.63" y="335.3" width="3" height="0.9" fill="#ff9f1a"/>
<line x1="348.18" y1="331.8" x2="348.18" y2="338.2" stroke="#a6a8af" stroke-width="0.9"/>
<rect x="346.68" y="335.6" width="3" height="1.7" fill="#ffffff"/>
<line x1="352.22" y1="336.0" x2="352.22" y2="359.0" stroke="#a6a8af" stroke-width="0.9"/>
<rect x="350.72" y="336.8" width="3" height="14.0" fill="#ffffff"/>
<line x1="356.27" y1="347.4" x2="356.27" y2="355.2" stroke="#a6a8af" stroke-width="0.9"/>
<rect x="354.77" y="350.6" width="3" height="0.9" fill="#ffffff"/>
<line x1="360.31" y1="348.8" x2="360.31" y2="360.6" stroke="#a6a8af" stroke-width="0.9"/>
<rect x="358.81" y="350.9" width="3" height="6.9" fill="#ffffff"/>
<line x1="364.36" y1="350.9" x2="364.36" y2="359.2" stroke="#bb822e" stroke-width="0.9"/>
<rect x="362.86" y="355.7" width="3" height="2.6" fill="#ff9f1a"/>
<line x1="368.40" y1="346.3" x2="368.40" y2="357.1" stroke="#bb822e" stroke-width="0.9"/>
<rect x="366.90" y="350.6" width="3" height="6.0" fill="#ff9f1a"/>
<line x1="372.45" y1="339.4" x2="372.45" y2="351.4" stroke="#bb822e" stroke-width="0.9"/>
<rect x="370.95" y="345.1" width="3" height="5.8" fill="#ff9f1a"/>
<line x1="376.49" y1="343.3" x2="376.49" y2="349.7" stroke="#a6a8af" stroke-width="0.9"/>
<rect x="374.99" y="345.1" width="3" height="2.5" fill="#ffffff"/>
<line x1="380.54" y1="332.0" x2="380.54" y2="348.8" stroke="#bb822e" stroke-width="0.9"/>
<rect x="379.04" y="342.0" width="3" height="6.0" fill="#ff9f1a"/>
<line x1="384.58" y1="339.4" x2="384.58" y2="355.4" stroke="#a6a8af" stroke-width="0.9"/>
<rect x="383.08" y="340.6" width="3" height="11.7" fill="#ffffff"/>
<line x1="388.63" y1="348.0" x2="388.63" y2="360.9" stroke="#a6a8af" stroke-width="0.9"/>
<rect x="387.13" y="351.9" width="3" height="5.9" fill="#ffffff"/>
<line x1="392.67" y1="354.0" x2="392.67" y2="364.7" stroke="#bb822e" stroke-width="0.9"/>
<rect x="391.17" y="354.9" width="3" height="2.9" fill="#ff9f1a"/>
<line x1="396.72" y1="344.5" x2="396.72" y2="355.7" stroke="#bb822e" stroke-width="0.9"/>
<rect x="395.22" y="350.9" width="3" height="4.3" fill="#ff9f1a"/>
<line x1="400.76" y1="337.7" x2="400.76" y2="352.3" stroke="#bb822e" stroke-width="0.9"/>
<rect x="399.26" y="343.2" width="3" height="8.2" fill="#ff9f1a"/>
<line x1="404.81" y1="339.4" x2="404.81" y2="349.7" stroke="#bb822e" stroke-width="0.9"/>
<rect x="403.31" y="339.9" width="3" height="3.8" fill="#ff9f1a"/>
<line x1="408.85" y1="321.8" x2="408.85" y2="342.0" stroke="#bb822e" stroke-width="0.9"/>
<rect x="407.35" y="321.8" width="3" height="18.4" fill="#ff9f1a"/>
<line x1="412.90" y1="310.1" x2="412.90" y2="334.7" stroke="#a6a8af" stroke-width="0.9"/>
<rect x="411.40" y="321.8" width="3" height="6.0" fill="#ffffff"/>
<line x1="416.94" y1="299.8" x2="416.94" y2="333.7" stroke="#bb822e" stroke-width="0.9"/>
<rect x="415.44" y="307.9" width="3" height="19.9" fill="#ff9f1a"/>
<line x1="420.99" y1="286.0" x2="420.99" y2="318.2" stroke="#bb822e" stroke-width="0.9"/>
<rect x="419.49" y="303.8" width="3" height="4.6" fill="#ff9f1a"/>
<line x1="425.03" y1="300.3" x2="425.03" y2="318.7" stroke="#a6a8af" stroke-width="0.9"/>
<rect x="423.53" y="302.7" width="3" height="11.4" fill="#ffffff"/>
<line x1="429.08" y1="292.4" x2="429.08" y2="314.9" stroke="#bb822e" stroke-width="0.9"/>
<rect x="427.58" y="300.3" width="3" height="13.3" fill="#ff9f1a"/>
<line x1="433.12" y1="292.6" x2="433.12" y2="311.8" stroke="#bb822e" stroke-width="0.9"/>
<rect x="431.62" y="297.7" width="3" height="3.0" fill="#ff9f1a"/>
<line x1="437.17" y1="295.1" x2="437.17" y2="307.5" stroke="#a6a8af" stroke-width="0.9"/>
<rect x="435.67" y="297.7" width="3" height="3.0" fill="#ffffff"/>
<line x1="441.21" y1="296.4" x2="441.21" y2="321.7" stroke="#a6a8af" stroke-width="0.9"/>
<rect x="439.71" y="300.3" width="3" height="8.6" fill="#ffffff"/>
<line x1="445.26" y1="299.8" x2="445.26" y2="319.9" stroke="#bb822e" stroke-width="0.9"/>
<rect x="443.76" y="300.3" width="3" height="9.3" fill="#ff9f1a"/>
<line x1="449.30" y1="294.6" x2="449.30" y2="314.9" stroke="#a6a8af" stroke-width="0.9"/>
<rect x="447.80" y="300.3" width="3" height="5.5" fill="#ffffff"/>
<line x1="453.35" y1="304.6" x2="453.35" y2="317.0" stroke="#a6a8af" stroke-width="0.9"/>
<rect x="451.85" y="305.2" width="3" height="2.4" fill="#ffffff"/>
<line x1="457.39" y1="300.0" x2="457.39" y2="309.7" stroke="#bb822e" stroke-width="0.9"/>
<rect x="455.89" y="301.6" width="3" height="6.2" fill="#ff9f1a"/>
<line x1="461.44" y1="283.2" x2="461.44" y2="303.8" stroke="#bb822e" stroke-width="0.9"/>
<rect x="459.94" y="293.3" width="3" height="8.7" fill="#ff9f1a"/>
<line x1="465.48" y1="273.7" x2="465.48" y2="298.5" stroke="#bb822e" stroke-width="0.9"/>
<rect x="463.98" y="277.2" width="3" height="16.1" fill="#ff9f1a"/>
<line x1="469.53" y1="276.6" x2="469.53" y2="300.7" stroke="#a6a8af" stroke-width="0.9"/>
<rect x="468.03" y="277.2" width="3" height="12.3" fill="#ffffff"/>
<line x1="473.57" y1="282.7" x2="473.57" y2="291.8" stroke="#bb822e" stroke-width="0.9"/>
<rect x="472.07" y="285.2" width="3" height="4.3" fill="#ff9f1a"/>
<line x1="477.62" y1="264.2" x2="477.62" y2="308.0" stroke="#a6a8af" stroke-width="0.9"/>
<rect x="476.12" y="285.2" width="3" height="2.6" fill="#ffffff"/>
<line x1="481.66" y1="271.8" x2="481.66" y2="294.7" stroke="#bb822e" stroke-width="0.9"/>
<rect x="480.16" y="274.9" width="3" height="12.9" fill="#ff9f1a"/>
<line x1="485.71" y1="219.9" x2="485.71" y2="276.6" stroke="#bb822e" stroke-width="0.9"/>
<rect x="484.21" y="246.5" width="3" height="29.6" fill="#ff9f1a"/>
<line x1="489.75" y1="243.1" x2="489.75" y2="267.2" stroke="#a6a8af" stroke-width="0.9"/>
<rect x="488.25" y="246.5" width="3" height="8.6" fill="#ffffff"/>
<line x1="493.80" y1="242.7" x2="493.80" y2="278.7" stroke="#a6a8af" stroke-width="0.9"/>
<rect x="492.30" y="255.1" width="3" height="19.0" fill="#ffffff"/>
<line x1="497.84" y1="265.4" x2="497.84" y2="298.5" stroke="#a6a8af" stroke-width="0.9"/>
<rect x="496.34" y="273.2" width="3" height="9.5" fill="#ffffff"/>
<line x1="501.89" y1="258.6" x2="501.89" y2="283.5" stroke="#bb822e" stroke-width="0.9"/>
<rect x="500.39" y="261.1" width="3" height="21.9" fill="#ff9f1a"/>
<line x1="505.93" y1="241.4" x2="505.93" y2="284.4" stroke="#a6a8af" stroke-width="0.9"/>
<rect x="504.43" y="261.1" width="3" height="14.7" fill="#ffffff"/>
<line x1="509.98" y1="243.1" x2="509.98" y2="279.7" stroke="#bb822e" stroke-width="0.9"/>
<rect x="508.48" y="259.4" width="3" height="16.0" fill="#ff9f1a"/>
<line x1="514.02" y1="255.1" x2="514.02" y2="280.1" stroke="#a6a8af" stroke-width="0.9"/>
<rect x="512.52" y="259.1" width="3" height="12.7" fill="#ffffff"/>
<line x1="518.07" y1="264.9" x2="518.07" y2="281.5" stroke="#bb822e" stroke-width="0.9"/>
<rect x="516.57" y="267.2" width="3" height="5.6" fill="#ff9f1a"/>
<line x1="522.12" y1="264.2" x2="522.12" y2="280.9" stroke="#a6a8af" stroke-width="0.9"/>
<rect x="520.62" y="266.8" width="3" height="11.9" fill="#ffffff"/>
<line x1="526.16" y1="274.6" x2="526.16" y2="317.6" stroke="#a6a8af" stroke-width="0.9"/>
<rect x="524.66" y="277.5" width="3" height="33.9" fill="#ffffff"/>
<line x1="530.20" y1="290.4" x2="530.20" y2="312.8" stroke="#bb822e" stroke-width="0.9"/>
<rect x="528.70" y="294.2" width="3" height="18.2" fill="#ff9f1a"/>
<line x1="534.25" y1="289.5" x2="534.25" y2="298.7" stroke="#bb822e" stroke-width="0.9"/>
<rect x="532.75" y="293.3" width="3" height="1.9" fill="#ff9f1a"/>
<line x1="538.29" y1="284.7" x2="538.29" y2="294.7" stroke="#bb822e" stroke-width="0.9"/>
<rect x="536.79" y="289.9" width="3" height="3.9" fill="#ff9f1a"/>
<line x1="542.34" y1="270.6" x2="542.34" y2="291.3" stroke="#bb822e" stroke-width="0.9"/>
<rect x="540.84" y="275.8" width="3" height="14.9" fill="#ff9f1a"/>
<line x1="546.38" y1="275.4" x2="546.38" y2="296.4" stroke="#a6a8af" stroke-width="0.9"/>
<rect x="544.88" y="276.1" width="3" height="8.8" fill="#ffffff"/>
<line x1="550.43" y1="266.8" x2="550.43" y2="297.6" stroke="#a6a8af" stroke-width="0.9"/>
<rect x="548.93" y="284.7" width="3" height="4.8" fill="#ffffff"/>
<line x1="554.48" y1="282.7" x2="554.48" y2="296.9" stroke="#bb822e" stroke-width="0.9"/>
<rect x="552.98" y="284.4" width="3" height="4.6" fill="#ff9f1a"/>
<line x1="558.52" y1="280.1" x2="558.52" y2="291.3" stroke="#a6a8af" stroke-width="0.9"/>
<rect x="557.02" y="284.4" width="3" height="4.3" fill="#ffffff"/>
<line x1="562.56" y1="284.0" x2="562.56" y2="292.1" stroke="#bb822e" stroke-width="0.9"/>
<rect x="561.06" y="284.7" width="3" height="4.0" fill="#ff9f1a"/>
<line x1="566.61" y1="279.7" x2="566.61" y2="286.6" stroke="#bb822e" stroke-width="0.9"/>
<rect x="565.11" y="280.9" width="3" height="4.0" fill="#ff9f1a"/>
<line x1="570.65" y1="271.1" x2="570.65" y2="282.7" stroke="#bb822e" stroke-width="0.9"/>
<rect x="569.15" y="274.0" width="3" height="7.3" fill="#ff9f1a"/>
<line x1="574.70" y1="227.3" x2="574.70" y2="281.5" stroke="#bb822e" stroke-width="0.9"/>
<rect x="573.20" y="249.7" width="3" height="24.6" fill="#ff9f1a"/>
<line x1="578.75" y1="219.9" x2="578.75" y2="267.9" stroke="#bb822e" stroke-width="0.9"/>
<rect x="577.25" y="241.1" width="3" height="9.0" fill="#ff9f1a"/>
<line x1="582.79" y1="223.0" x2="582.79" y2="257.5" stroke="#bb822e" stroke-width="0.9"/>
<rect x="581.29" y="227.5" width="3" height="13.6" fill="#ff9f1a"/>
<line x1="586.83" y1="168.8" x2="586.83" y2="235.6" stroke="#bb822e" stroke-width="0.9"/>
<rect x="585.33" y="216.1" width="3" height="11.9" fill="#ff9f1a"/>
<line x1="590.88" y1="208.5" x2="590.88" y2="232.4" stroke="#bb822e" stroke-width="0.9"/>
<rect x="589.38" y="214.0" width="3" height="3.4" fill="#ff9f1a"/>
<line x1="594.92" y1="181.8" x2="594.92" y2="215.2" stroke="#bb822e" stroke-width="0.9"/>
<rect x="593.42" y="193.9" width="3" height="20.5" fill="#ff9f1a"/>
<line x1="598.97" y1="180.9" x2="598.97" y2="207.5" stroke="#a6a8af" stroke-width="0.9"/>
<rect x="597.47" y="193.2" width="3" height="10.9" fill="#ffffff"/>
<line x1="603.01" y1="184.3" x2="603.01" y2="207.5" stroke="#bb822e" stroke-width="0.9"/>
<rect x="601.51" y="186.9" width="3" height="17.2" fill="#ff9f1a"/>
<line x1="607.06" y1="174.0" x2="607.06" y2="245.7" stroke="#a6a8af" stroke-width="0.9"/>
<rect x="605.56" y="187.7" width="3" height="38.8" fill="#ffffff"/>
<line x1="611.11" y1="214.1" x2="611.11" y2="236.8" stroke="#bb822e" stroke-width="0.9"/>
<rect x="609.61" y="223.9" width="3" height="2.2" fill="#ff9f1a"/>
<line x1="615.15" y1="208.9" x2="615.15" y2="244.0" stroke="#bb822e" stroke-width="0.9"/>
<rect x="613.65" y="212.4" width="3" height="11.5" fill="#ff9f1a"/>
<line x1="619.19" y1="193.4" x2="619.19" y2="226.8" stroke="#bb822e" stroke-width="0.9"/>
<rect x="617.69" y="198.9" width="3" height="13.8" fill="#ff9f1a"/>
<line x1="623.24" y1="198.1" x2="623.24" y2="223.9" stroke="#a6a8af" stroke-width="0.9"/>
<rect x="621.74" y="198.9" width="3" height="24.1" fill="#ffffff"/>
<line x1="627.28" y1="120.7" x2="627.28" y2="229.1" stroke="#bb822e" stroke-width="0.9"/>
<rect x="625.78" y="126.2" width="3" height="96.0" fill="#ff9f1a"/>
<line x1="631.33" y1="110.0" x2="631.33" y2="192.0" stroke="#a6a8af" stroke-width="0.9"/>
<rect x="629.83" y="125.8" width="3" height="63.7" fill="#ffffff"/>
<line x1="635.38" y1="179.2" x2="635.38" y2="225.1" stroke="#bb822e" stroke-width="0.9"/>
<rect x="633.88" y="182.2" width="3" height="7.3" fill="#ff9f1a"/>
<line x1="639.42" y1="174.9" x2="639.42" y2="203.8" stroke="#a6a8af" stroke-width="0.9"/>
<rect x="637.92" y="182.2" width="3" height="15.3" fill="#ffffff"/>
<line x1="643.46" y1="179.2" x2="643.46" y2="205.5" stroke="#bb822e" stroke-width="0.9"/>
<rect x="641.96" y="191.9" width="3" height="6.0" fill="#ff9f1a"/>
<line x1="647.51" y1="176.6" x2="647.51" y2="196.7" stroke="#bb822e" stroke-width="0.9"/>
<rect x="646.01" y="182.8" width="3" height="9.2" fill="#ff9f1a"/>
<line x1="651.55" y1="157.7" x2="651.55" y2="188.0" stroke="#bb822e" stroke-width="0.9"/>
<rect x="650.05" y="158.9" width="3" height="24.1" fill="#ff9f1a"/>
<line x1="655.60" y1="142.2" x2="655.60" y2="178.3" stroke="#bb822e" stroke-width="0.9"/>
<rect x="654.10" y="151.6" width="3" height="8.6" fill="#ff9f1a"/>
<line x1="659.64" y1="150.4" x2="659.64" y2="181.8" stroke="#a6a8af" stroke-width="0.9"/>
<rect x="658.14" y="152.5" width="3" height="19.4" fill="#ffffff"/>
<line x1="663.69" y1="153.4" x2="663.69" y2="176.6" stroke="#bb822e" stroke-width="0.9"/>
<rect x="662.19" y="153.9" width="3" height="18.4" fill="#ff9f1a"/>
<line x1="667.74" y1="153.7" x2="667.74" y2="202.9" stroke="#a6a8af" stroke-width="0.9"/>
<rect x="666.24" y="155.1" width="3" height="20.6" fill="#ffffff"/>
<line x1="671.78" y1="158.2" x2="671.78" y2="189.5" stroke="#bb822e" stroke-width="0.9"/>
<rect x="670.28" y="160.2" width="3" height="14.7" fill="#ff9f1a"/>
<line x1="675.82" y1="152.5" x2="675.82" y2="181.8" stroke="#a6a8af" stroke-width="0.9"/>
<rect x="674.32" y="159.9" width="3" height="14.5" fill="#ffffff"/>
<line x1="679.87" y1="169.0" x2="679.87" y2="190.2" stroke="#a6a8af" stroke-width="0.9"/>
<rect x="678.37" y="172.9" width="3" height="11.1" fill="#ffffff"/>
<line x1="683.91" y1="174.2" x2="683.91" y2="186.3" stroke="#bb822e" stroke-width="0.9"/>
<rect x="682.41" y="182.6" width="3" height="0.9" fill="#ff9f1a"/>
<line x1="687.96" y1="174.4" x2="687.96" y2="190.6" stroke="#a6a8af" stroke-width="0.9"/>
<rect x="686.46" y="183.0" width="3" height="3.4" fill="#ffffff"/>
<line x1="692.00" y1="169.0" x2="692.00" y2="192.7" stroke="#bb822e" stroke-width="0.9"/>
<rect x="690.50" y="170.6" width="3" height="15.7" fill="#ff9f1a"/>
<line x1="696.05" y1="159.3" x2="696.05" y2="180.6" stroke="#a6a8af" stroke-width="0.9"/>
<rect x="694.55" y="170.8" width="3" height="5.9" fill="#ffffff"/>
<line x1="700.09" y1="171.0" x2="700.09" y2="285.5" stroke="#a6a8af" stroke-width="0.9"/>
<rect x="698.59" y="176.1" width="3" height="48.1" fill="#ffffff"/>
<line x1="704.14" y1="196.8" x2="704.14" y2="230.5" stroke="#bb822e" stroke-width="0.9"/>
<rect x="702.64" y="203.5" width="3" height="20.7" fill="#ff9f1a"/>
<line x1="708.18" y1="198.5" x2="708.18" y2="231.3" stroke="#a6a8af" stroke-width="0.9"/>
<rect x="706.68" y="203.2" width="3" height="9.2" fill="#ffffff"/>
<line x1="712.23" y1="210.4" x2="712.23" y2="235.7" stroke="#a6a8af" stroke-width="0.9"/>
<rect x="710.73" y="212.4" width="3" height="10.1" fill="#ffffff"/>
<line x1="716.27" y1="218.2" x2="716.27" y2="253.7" stroke="#a6a8af" stroke-width="0.9"/>
<rect x="714.77" y="222.4" width="3" height="27.5" fill="#ffffff"/>
<line x1="720.32" y1="223.2" x2="720.32" y2="274.9" stroke="#bb822e" stroke-width="0.9"/>
<rect x="718.82" y="223.2" width="3" height="26.7" fill="#ff9f1a"/>
<line x1="724.37" y1="202.4" x2="724.37" y2="249.1" stroke="#bb822e" stroke-width="0.9"/>
<rect x="722.87" y="219.0" width="3" height="4.9" fill="#ff9f1a"/>
<line x1="728.41" y1="195.4" x2="728.41" y2="245.6" stroke="#bb822e" stroke-width="0.9"/>
<rect x="726.91" y="204.4" width="3" height="14.6" fill="#ff9f1a"/>
<line x1="732.45" y1="179.2" x2="732.45" y2="209.7" stroke="#bb822e" stroke-width="0.9"/>
<rect x="730.95" y="195.9" width="3" height="8.5" fill="#ff9f1a"/>
<line x1="736.50" y1="189.1" x2="736.50" y2="235.7" stroke="#a6a8af" stroke-width="0.9"/>
<rect x="735.00" y="195.9" width="3" height="24.5" fill="#ffffff"/>
<line x1="740.54" y1="200.5" x2="740.54" y2="230.9" stroke="#bb822e" stroke-width="0.9"/>
<rect x="739.04" y="208.9" width="3" height="11.5" fill="#ff9f1a"/>
<line x1="744.59" y1="200.1" x2="744.59" y2="225.8" stroke="#a6a8af" stroke-width="0.9"/>
<rect x="743.09" y="208.9" width="3" height="15.0" fill="#ffffff"/>
<line x1="748.63" y1="214.3" x2="748.63" y2="228.1" stroke="#a6a8af" stroke-width="0.9"/>
<rect x="747.13" y="223.6" width="3" height="2.1" fill="#ffffff"/>
<line x1="752.68" y1="215.2" x2="752.68" y2="230.5" stroke="#bb822e" stroke-width="0.9"/>
<rect x="751.18" y="218.7" width="3" height="6.8" fill="#ff9f1a"/>
<line x1="756.72" y1="216.0" x2="756.72" y2="232.2" stroke="#a6a8af" stroke-width="0.9"/>
<rect x="755.22" y="218.7" width="3" height="7.3" fill="#ffffff"/>
<line x1="760.77" y1="224.2" x2="760.77" y2="252.5" stroke="#a6a8af" stroke-width="0.9"/>
<rect x="759.27" y="225.5" width="3" height="15.8" fill="#ffffff"/>
<line x1="764.81" y1="232.0" x2="764.81" y2="261.1" stroke="#bb822e" stroke-width="0.9"/>
<rect x="763.31" y="236.0" width="3" height="5.3" fill="#ff9f1a"/>
<line x1="768.86" y1="210.1" x2="768.86" y2="237.1" stroke="#bb822e" stroke-width="0.9"/>
<rect x="767.36" y="218.2" width="3" height="18.5" fill="#ff9f1a"/>
<line x1="772.90" y1="215.2" x2="772.90" y2="235.0" stroke="#a6a8af" stroke-width="0.9"/>
<rect x="771.40" y="217.7" width="3" height="16.8" fill="#ffffff"/>
<line x1="776.95" y1="232.8" x2="776.95" y2="255.9" stroke="#a6a8af" stroke-width="0.9"/>
<rect x="775.45" y="233.9" width="3" height="21.2" fill="#ffffff"/>
<line x1="781.00" y1="246.8" x2="781.00" y2="277.8" stroke="#a6a8af" stroke-width="0.9"/>
<rect x="779.50" y="255.1" width="3" height="4.6" fill="#ffffff"/>
<line x1="785.04" y1="251.1" x2="785.04" y2="263.3" stroke="#bb822e" stroke-width="0.9"/>
<rect x="783.54" y="255.4" width="3" height="3.5" fill="#ff9f1a"/>
<line x1="789.08" y1="254.2" x2="789.08" y2="264.0" stroke="#a6a8af" stroke-width="0.9"/>
<rect x="787.58" y="255.4" width="3" height="2.3" fill="#ffffff"/>
<line x1="793.13" y1="243.9" x2="793.13" y2="261.1" stroke="#bb822e" stroke-width="0.9"/>
<rect x="791.63" y="249.1" width="3" height="8.6" fill="#ff9f1a"/>
<line x1="797.17" y1="239.9" x2="797.17" y2="252.5" stroke="#bb822e" stroke-width="0.9"/>
<rect x="795.67" y="245.1" width="3" height="4.8" fill="#ff9f1a"/>
<line x1="801.22" y1="239.2" x2="801.22" y2="255.4" stroke="#a6a8af" stroke-width="0.9"/>
<rect x="799.72" y="244.8" width="3" height="6.8" fill="#ffffff"/>
<line x1="805.26" y1="237.5" x2="805.26" y2="254.2" stroke="#bb822e" stroke-width="0.9"/>
<rect x="803.76" y="241.3" width="3" height="9.5" fill="#ff9f1a"/>
<line x1="809.31" y1="229.3" x2="809.31" y2="250.8" stroke="#a6a8af" stroke-width="0.9"/>
<rect x="807.81" y="241.0" width="3" height="8.1" fill="#ffffff"/>
<line x1="813.36" y1="244.4" x2="813.36" y2="257.7" stroke="#a6a8af" stroke-width="0.9"/>
<rect x="811.86" y="248.2" width="3" height="5.5" fill="#ffffff"/>
<line x1="817.40" y1="249.1" x2="817.40" y2="261.1" stroke="#bb822e" stroke-width="0.9"/>
<rect x="815.90" y="249.9" width="3" height="3.8" fill="#ff9f1a"/>
<line x1="821.44" y1="245.1" x2="821.44" y2="254.2" stroke="#bb822e" stroke-width="0.9"/>
<rect x="819.94" y="246.8" width="3" height="3.5" fill="#ff9f1a"/>
<line x1="825.49" y1="243.0" x2="825.49" y2="250.3" stroke="#bb822e" stroke-width="0.9"/>
<rect x="823.99" y="245.1" width="3" height="2.7" fill="#ff9f1a"/>
<line x1="829.53" y1="243.9" x2="829.53" y2="257.7" stroke="#a6a8af" stroke-width="0.9"/>
<rect x="828.03" y="245.1" width="3" height="10.8" fill="#ffffff"/>
<rect x="832.18" y="249.1" width="2.8" height="12.0" fill="#7d5c2c" opacity="0.85"/>
<rect x="831.58" y="254.8" width="4" height="1" fill="#d68a20"/>
<line x1="837.62" y1="253.4" x2="837.62" y2="259.4" stroke="#a6a8af" stroke-width="0.9"/>
<rect x="836.12" y="255.1" width="3" height="2.6" fill="#ffffff"/>
<line x1="841.67" y1="255.1" x2="841.67" y2="260.2" stroke="#bb822e" stroke-width="0.9"/>
<rect x="840.17" y="257.1" width="3" height="0.9" fill="#ff9f1a"/>
</g>
<line x1="627.7" y1="122.4" x2="878" y2="269" stroke="#bcbec5" stroke-width="1"/>
<g transform="translate(841.6,533.2)"><circle r="6.05" fill="#181c29" stroke="#b14bd0" stroke-width="1.15"/><path d="M2.17,-3.1 L-2.38,0.52 L0.36,0.52 L-1.96,3.36 L2.58,-0.26 L-0.15,-0.26 Z" fill="#b14bd0" stroke="#b14bd0" stroke-width="0.3" stroke-linejoin="round"/></g>
<g filter="url(#tb)">
<g fill="#c5c8d0" font-size="8.5" stroke="#c5c8d0" stroke-width="0.15">
<text x="972" y="63.50" textLength="39" lengthAdjust="spacingAndGlyphs">0.00001300</text>
<text x="972" y="87.35" textLength="39" lengthAdjust="spacingAndGlyphs">0.00001250</text>
<text x="972" y="111.20" textLength="39" lengthAdjust="spacingAndGlyphs">0.00001200</text>
<text x="972" y="135.05" textLength="39" lengthAdjust="spacingAndGlyphs">0.00001150</text>
<text x="972" y="158.90" textLength="39" lengthAdjust="spacingAndGlyphs">0.00001100</text>
<text x="972" y="182.75" textLength="39" lengthAdjust="spacingAndGlyphs">0.00001050</text>
<text x="972" y="206.60" textLength="39" lengthAdjust="spacingAndGlyphs">0.00001000</text>
<text x="972" y="230.45" textLength="39" lengthAdjust="spacingAndGlyphs">0.00000950</text>
<text x="972" y="254.30" textLength="39" lengthAdjust="spacingAndGlyphs">0.00000900</text>
<text x="972" y="278.15" textLength="39" lengthAdjust="spacingAndGlyphs">0.00000850</text>
<text x="972" y="302.00" textLength="39" lengthAdjust="spacingAndGlyphs">0.00000800</text>
<text x="972" y="325.85" textLength="39" lengthAdjust="spacingAndGlyphs">0.00000750</text>
<text x="972" y="349.70" textLength="39" lengthAdjust="spacingAndGlyphs">0.00000700</text>
<text x="972" y="373.55" textLength="39" lengthAdjust="spacingAndGlyphs">0.00000650</text>
<text x="972" y="397.40" textLength="39" lengthAdjust="spacingAndGlyphs">0.00000600</text>
<text x="972" y="421.25" textLength="39" lengthAdjust="spacingAndGlyphs">0.00000550</text>
<text x="972" y="445.10" textLength="39" lengthAdjust="spacingAndGlyphs">0.00000500</text>
<text x="972" y="468.95" textLength="39" lengthAdjust="spacingAndGlyphs">0.00000450</text>
<text x="972" y="492.80" textLength="39" lengthAdjust="spacingAndGlyphs">0.00000400</text>
<text x="972" y="516.65" textLength="39" lengthAdjust="spacingAndGlyphs">0.00000350</text>
<text x="972" y="540.50" textLength="39" lengthAdjust="spacingAndGlyphs">0.00000300</text>
</g>
<rect x="967" y="174.10" width="47.8" height="10.8" rx="0.8" fill="#ffe0b2"/>
<text x="972" y="182.30" font-size="8.1" fill="#26221c" stroke="#26221c" stroke-width="0.2" textLength="39" lengthAdjust="spacingAndGlyphs">0.00001050</text>
<rect x="967" y="203.60" width="47.8" height="10.8" rx="0.8" fill="#ffe0b2"/>
<text x="972" y="211.80" font-size="8.1" fill="#26221c" stroke="#26221c" stroke-width="0.2" textLength="39" lengthAdjust="spacingAndGlyphs">0.00000988</text>
<rect x="967" y="222.10" width="47.8" height="10.8" rx="0.8" fill="#ffe0b2"/>
<text x="972" y="230.30" font-size="8.1" fill="#26221c" stroke="#26221c" stroke-width="0.2" textLength="39" lengthAdjust="spacingAndGlyphs">0.00000950</text>
<rect x="967" y="279.10" width="47.8" height="10.8" rx="0.8" fill="#ffe0b2"/>
<text x="972" y="287.30" font-size="8.1" fill="#26221c" stroke="#26221c" stroke-width="0.2" textLength="39" lengthAdjust="spacingAndGlyphs">0.00000830</text>
<rect x="967" y="313.10" width="47.8" height="10.8" rx="0.8" fill="#ffe0b2"/>
<text x="972" y="321.30" font-size="8.1" fill="#26221c" stroke="#26221c" stroke-width="0.2" textLength="39" lengthAdjust="spacingAndGlyphs">0.00000760</text>
<rect x="967" y="252.10" width="47.6" height="19.6" rx="0.8" fill="#ff9800"/>
<text x="972" y="260.00" font-size="8.1" stroke="#2a1c05" stroke-width="0.2" fill="#2a1c05" textLength="39" lengthAdjust="spacingAndGlyphs">0.00000886</text>
<text x="972" y="268.70" font-size="7.9" fill="#7a4a08" textLength="29.5" lengthAdjust="spacingAndGlyphs">13:34:20</text>
<rect x="969.5" y="19.5" width="46" height="16.8" rx="2.8" fill="#131722" stroke="#343843" stroke-width="1"/>
<text x="975.3" y="30.8" font-size="8.4" fill="#d5d8df" stroke="#d5d8df" stroke-width="0.35" textLength="17.8" lengthAdjust="spacingAndGlyphs">USDT</text>
<g fill="#c5c8d0" font-size="7.5" text-anchor="middle" stroke="#c5c8d0" stroke-width="0.22">
<text x="12.45" y="552.5">17</text>
<text x="73.12" y="552.5">Aug</text>
<text x="125.70" y="552.5">14</text>
<text x="198.52" y="552.5">Sep</text>
<text x="267.28" y="552.5">18</text>
<text x="319.86" y="552.5">Oct</text>
<text x="380.54" y="552.5">16</text>
<text x="445.26" y="552.5">Nov</text>
<text x="497.84" y="552.5">14</text>
<text x="566.61" y="552.5">Dec</text>
<text x="635.38" y="552.5">18</text>
<text x="692.00" y="552.5" font-weight="bold">2024</text>
<text x="748.63" y="552.5">15</text>
<text x="817.40" y="552.5">Feb</text>
<text x="869.99" y="552.5">14</text>
<text x="934.70" y="552.5">Mar</text>
</g>
<text x="6" y="11.6" font-size="8.1" font-weight="bold" fill="#c9ccd3" textLength="248" lengthAdjust="spacingAndGlyphs">Alade_Michael published on TradingView.com, Feb 07, 2024 11:25 UTC+1</text>
<g font-size="8.3" stroke-width="0.18">
<text x="11.3" y="29" fill="#c5c8d0" stroke="#c5c8d0" textLength="101.4" lengthAdjust="spacingAndGlyphs">SHIB / TetherUS, 1D, BINANCE</text>
<text x="118.2" y="29" fill="#c5c8d0" textLength="4.2" lengthAdjust="spacingAndGlyphs">O</text>
<text x="122.7" y="29" fill="#f0a02c" stroke="#f0a02c" textLength="38.7" lengthAdjust="spacingAndGlyphs">0.00000886</text>
<text x="166.2" y="29" fill="#c5c8d0" textLength="4.4" lengthAdjust="spacingAndGlyphs">H</text>
<text x="170.9" y="29" fill="#f0a02c" stroke="#f0a02c" textLength="38.7" lengthAdjust="spacingAndGlyphs">0.00000890</text>
<text x="213.8" y="29" fill="#c5c8d0" textLength="3.3" lengthAdjust="spacingAndGlyphs">L</text>
<text x="217.4" y="29" fill="#f0a02c" stroke="#f0a02c" textLength="38.7" lengthAdjust="spacingAndGlyphs">0.00000880</text>
<text x="260.2" y="29" fill="#c5c8d0" textLength="4.1" lengthAdjust="spacingAndGlyphs">C</text>
<text x="264.6" y="29" fill="#f0a02c" stroke="#f0a02c" textLength="38.7" lengthAdjust="spacingAndGlyphs">0.00000886</text>
<text x="309" y="29" fill="#f0a02c" stroke="#f0a02c" textLength="65.5" lengthAdjust="spacingAndGlyphs">0.00000000 (0.00%)</text>
<text x="11.3" y="40.1" fill="#c5c8d0" stroke="#c5c8d0" textLength="48.3" lengthAdjust="spacingAndGlyphs">Vol · SHIB (20)</text>
<text x="64.5" y="40.1" fill="#eceef2" font-weight="bold" textLength="30.6" lengthAdjust="spacingAndGlyphs">347.806B</text>
<text x="100.2" y="40.1" fill="#f5dcb3" font-weight="bold" textLength="22.3" lengthAdjust="spacingAndGlyphs">1.787T</text>
</g>
<g fill="#d5d8df"><path d="M6.3,566.3 h5.6 v6.6 h-2.9 v-3.9 h-2.7 z"/><circle cx="13.7" cy="567.6" r="1.35"/><path d="M15.6,566.3 h3.3 l-2.7,6.6 h-3.3 z"/></g>
<text x="21.3" y="573" font-size="9" fill="#d5d8df" stroke="#d5d8df" stroke-width="0.22" textLength="44" lengthAdjust="spacingAndGlyphs">TradingView</text>
</g>
</svg>
</body></html>
